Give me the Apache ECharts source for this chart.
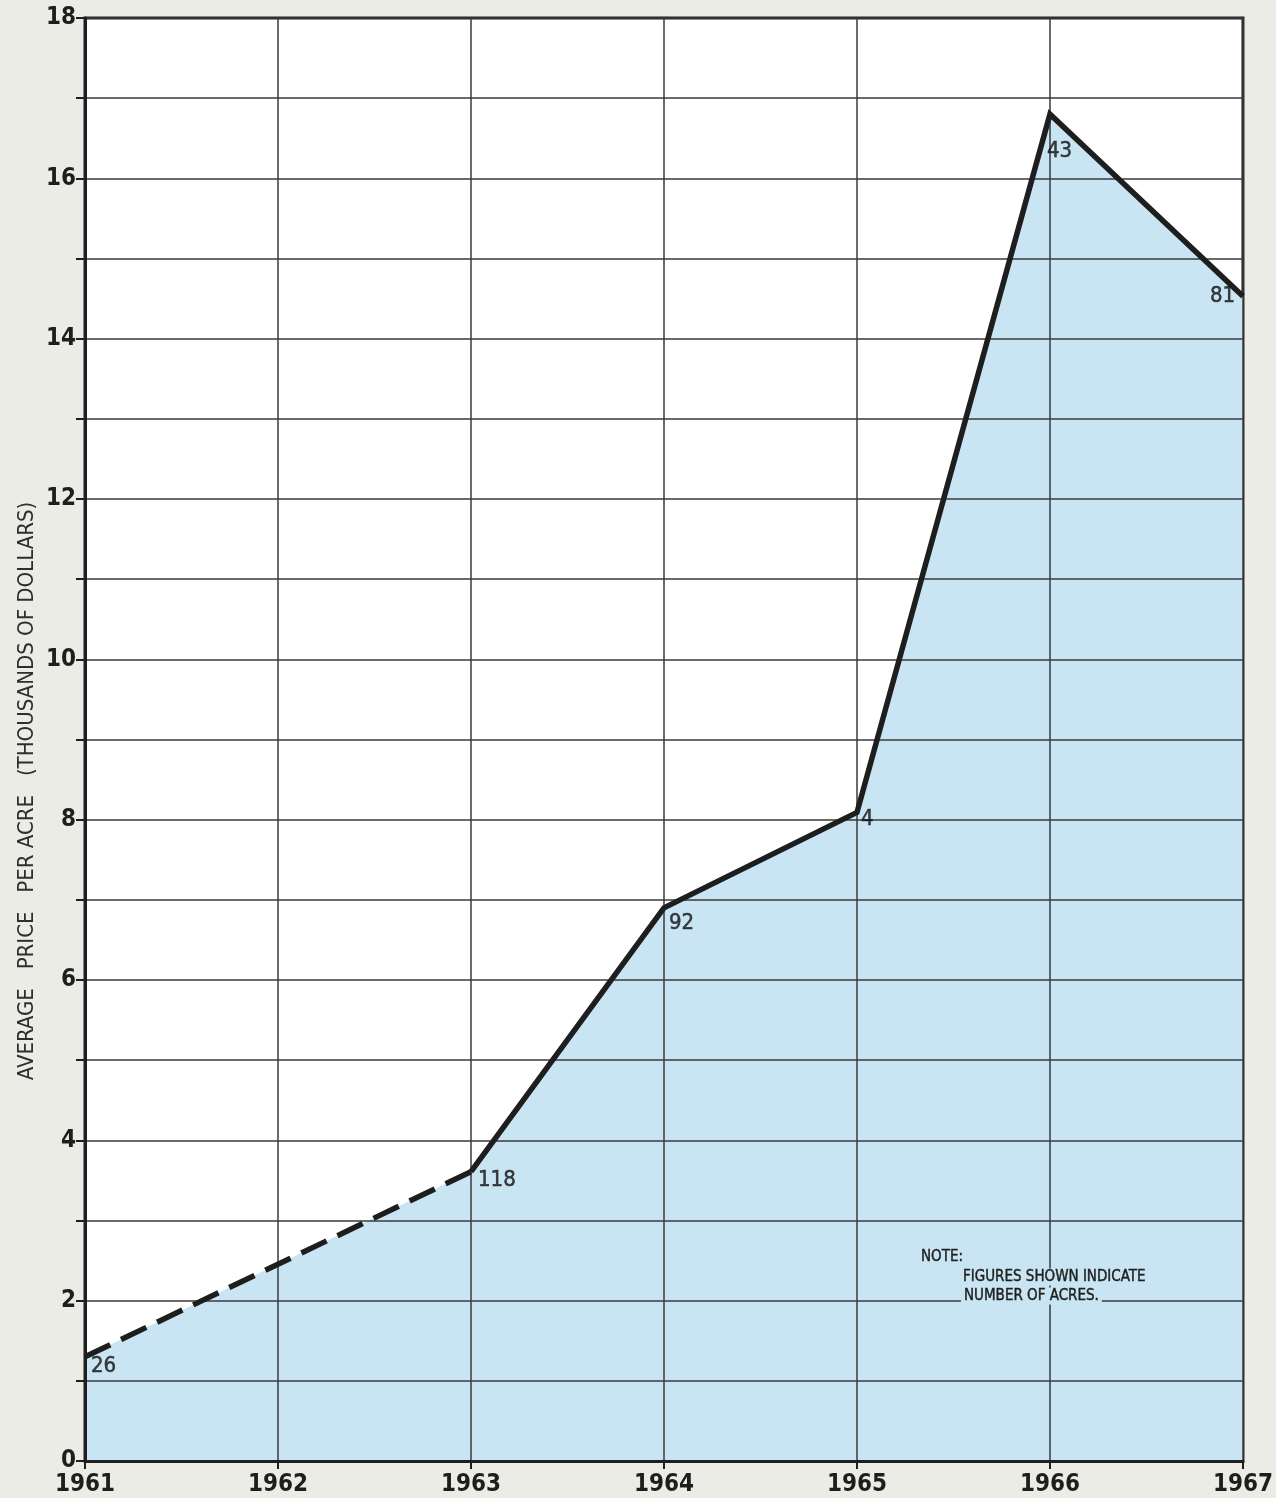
<!DOCTYPE html>
<html>
<head>
<meta charset="utf-8">
<script src="https://cdn.jsdelivr.net/npm/echarts@6/dist/echarts.min.js"></script>
<style>
html,body{margin:0;padding:0;background:#ecece7;}
#c{width:1276px;height:1498px;}
</style>
</head>
<body>
<div id="c"></div>
<script>
// ---- data ----
const years = [1961, 1963, 1964, 1965, 1966, 1967];
const prices = [1.30, 3.61, 6.90, 8.09, 16.80, 14.53];   // thousands of dollars per acre
const acres = ['26', '118', '92', '4', '43', '81'];
const dashedYears = [1961, 1963];
const dashedPrices = [1.30, 3.61];
const solidYears = [1963, 1964, 1965, 1966, 1967];
const solidPrices = [3.61, 6.90, 8.09, 16.80, 14.53];
const xTickLabels = [1961, 1962, 1963, 1964, 1965, 1966, 1967];
const yTickLabels = [0, 2, 4, 6, 8, 10, 12, 14, 16, 18];
const yAxisTitle = 'AVERAGE   PRICE   PER ACRE   (THOUSANDS OF DOLLARS)';
const noteLines = ['NOTE:', 'FIGURES SHOWN INDICATE', 'NUMBER OF ACRES.'];

const FONT = '"Liberation Sans Narrow","DejaVu Sans Condensed","Roboto",sans-serif';
const FILL = '#c9e5f3';
const INK = '#1e1e1e';

// label placements (style only)
const labelOffsets = [
  [6, 9], [7, 9], [5, 15], [4, 7], [-3, 37], [-33, 0]
];

const chart = echarts.init(document.getElementById('c'), null, {renderer: 'canvas'});

const noteStyle = (t, pad) => ({
  text: t, fill: INK, font: '15px ' + FONT, verticalAlign: 'middle',
  stroke: INK, lineWidth: 0.4,
  backgroundColor: FILL, padding: pad
});

const option = {
  backgroundColor: '#ecece7',
  animation: false,
  grid: {
    left: 85, right: 32, top: 18, bottom: 37,
    show: true, backgroundColor: '#ffffff', borderColor: INK, borderWidth: 3
  },
  xAxis: {
    type: 'value', min: 1961, max: 1967, interval: 1, z: 4,
    axisLine: {show: true, lineStyle: {color: INK, width: 3}},
    axisTick: {show: true, length: 8, lineStyle: {color: INK, width: 2}},
    splitLine: {show: true, lineStyle: {color: '#3a3a3a', width: 1.5}},
    axisLabel: {
      show: true, margin: 12, color: INK, fontFamily: FONT, fontWeight: 'bold', fontSize: 24,
      formatter: v => xTickLabels.includes(v) ? String(v) : ''
    }
  },
  yAxis: {
    type: 'value', min: 0, max: 18, interval: 1, z: 4,
    axisLine: {show: true, lineStyle: {color: INK, width: 3}},
    axisTick: {show: true, length: 9, lineStyle: {color: INK, width: 2}},
    splitLine: {show: true, lineStyle: {color: '#3a3a3a', width: 1.5}},
    axisLabel: {
      show: true, margin: 9, color: INK, fontFamily: FONT, fontWeight: 'bold', fontSize: 24,
      formatter: v => yTickLabels.includes(v) ? String(v) : ''
    }
  },
  series: [
    {
      type: 'line', name: 'area',
      data: years.map((y, i) => [y, prices[i]]),
      symbol: 'none',
      lineStyle: {width: 0, opacity: 0},
      areaStyle: {color: FILL, opacity: 1},
      z: 2
    },
    {
      type: 'line', name: 'dashed',
      data: dashedYears.map((y, i) => [y, dashedPrices[i]]),
      symbol: 'none',
      lineStyle: {color: INK, width: 5.5, type: [28, 12], cap: 'butt'},
      z: 6
    },
    {
      type: 'line', name: 'solid',
      data: solidYears.map((y, i) => [y, solidPrices[i]]),
      symbol: 'none',
      lineStyle: {color: INK, width: 5.5, join: 'miter'},
      z: 6
    },
    {
      type: 'scatter', name: 'acres',
      symbol: 'circle', symbolSize: 1,
      itemStyle: {color: 'rgba(0,0,0,0)'},
      data: years.map((y, i) => ({
        value: [y, prices[i]],
        label: {
          show: true, formatter: acres[i], position: 'inside',
          align: 'left', verticalAlign: 'middle',
          offset: labelOffsets[i],
          color: '#111', fontFamily: FONT, fontSize: 22,
          textBorderColor: '#111', textBorderWidth: 0.5
        }
      })),
      z: 7
    }
  ],
  graphic: [
    {
      type: 'text', x: 27, y: 791, rotation: Math.PI / 2, z: 100,
      style: {
        text: yAxisTitle, x: 0, y: 0, align: 'center', verticalAlign: 'middle',
        fill: '#2e2e2e', font: '22px ' + FONT
      }
    },
    {type: 'text', x: 919, y: 1257, z: 100, style: noteStyle(noteLines[0], [1, 2])},
    {type: 'text', x: 961, y: 1277, z: 100, style: noteStyle(noteLines[1], [1, 2])},
    {type: 'text', x: 961, y: 1296, z: 100, style: noteStyle(noteLines[2], [1, 3])}
  ]
};

chart.setOption(option);
</script>
</body>
</html>
